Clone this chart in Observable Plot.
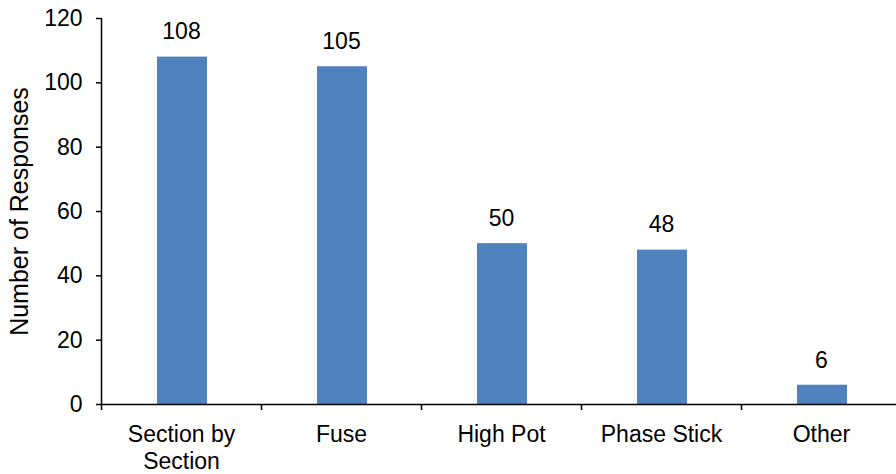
<!DOCTYPE html>
<html>
<head>
<meta charset="utf-8">
<script src="https://cdn.jsdelivr.net/npm/d3@7"></script>
<script src="https://cdn.jsdelivr.net/npm/@observablehq/plot@0.6"></script>
<style>
html, body { margin: 0; padding: 0; background: #fff; }
#chart svg { display: block; }
</style>
</head>
<body>
<div id="chart"></div>
<script>
const categories = ["Section by\nSection", "Fuse", "High Pot", "Phase Stick", "Other"];
const responses = [108, 105, 50, 48, 6];
const yTicks = [0, 20, 40, 60, 80, 100, 120];
const yLabel = "Number of Responses";

const data = categories.map((c, i) => ({cat: c, i, value: responses[i]}));
const boundaries = d3.range(categories.length + 1);
const centers = categories.map((c, i) => i + 0.5);

const font = "Liberation Sans, Arial, sans-serif";
const fs = 23;

const chart = Plot.plot({
  width: 896,
  height: 474,
  marginLeft: 101,
  marginRight: 0,
  marginTop: 18,
  marginBottom: 70,
  style: {fontFamily: font, fontSize: fs + "px", color: "#000", background: "#fff"},
  x: {type: "linear", domain: [0, 795 / 160], axis: null},
  y: {domain: [0, 120], axis: null},
  marks: [
    Plot.rectY(data, {x1: "i", x2: d => d.i + 1, y1: 0, y2: "value", fill: "#4F81BD", insetLeft: 56, insetRight: 54}),
    Plot.text(data, {x: d => d.i + 0.5, y: "value", text: d => String(d.value), dy: -25, fontSize: fs, fill: "#000"}),
    Plot.axisY({ticks: yTicks, tickSize: 5, tickPadding: 14, tickFormat: d => String(d), stroke: "#000", strokeWidth: 1.5,
      label: yLabel, labelAnchor: "center", labelArrow: "none", labelOffset: 91, fontSize: fs}),
    Plot.ruleX([0], {y1: 0, y2: 120, stroke: "#000", strokeWidth: 1.5}),
    Plot.ruleY([0], {stroke: "#000", strokeWidth: 1.5}),
    Plot.axisX({ticks: boundaries, tickSize: 6, tickFormat: () => "", label: null, stroke: "#000", strokeWidth: 1.5}),
    Plot.axisX({ticks: centers, tickSize: 0, tickPadding: 18, label: null, tickFormat: (d, i) => categories[i], lineHeight: 1.17, fontSize: fs})
  ]
});
// make the axis title slightly larger, as in the reference
chart.querySelectorAll("text").forEach(t => { if (t.textContent === yLabel) t.setAttribute("font-size", "25"); });
document.getElementById("chart").appendChild(chart);
</script>
</body>
</html>
